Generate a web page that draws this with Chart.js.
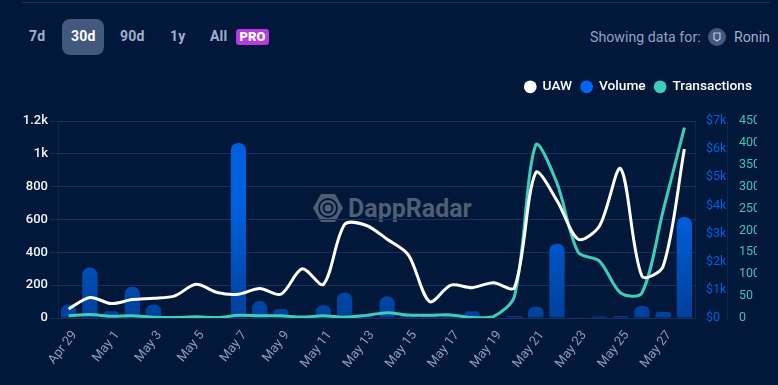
<!DOCTYPE html>
<html>
<head>
<meta charset="utf-8">
<script src="https://cdn.jsdelivr.net/npm/chart.js@4"></script>
<style>
  html, body { margin: 0; padding: 0; background: #01183a; overflow: hidden; }
  body { width: 778px; height: 385px; position: relative; font-family: Roboto, sans-serif; }
  #topline { position: absolute; left: 22px; top: 2px; width: 748px; height: 1px; background: #1b3058; }
  .tab { position: absolute; top: 28px; font-size: 14px; font-weight: 700; color: #9fb0cc; line-height: 17px; letter-spacing: 0.2px; }
  #active { position: absolute; left: 62px; top: 19px; width: 42px; height: 36px; border-radius: 8px; background: #43587d; }
  #pro { position: absolute; left: 236px; top: 29px; width: 33px; height: 16px; border-radius: 3px; background: #b63be0;
         color: #fff; font-size: 13px; font-weight: 900; text-align: center; line-height: 16px; }
  #showing { position: absolute; left: 590px; top: 29px; font-size: 14.2px; color: #8ea3c6; line-height: 17px; }
  #ronin { position: absolute; left: 734px; top: 29px; font-size: 14.2px; color: #9fb0cc; line-height: 17px; }
  #icon { position: absolute; left: 708px; top: 28px; width: 18px; height: 18px; border-radius: 50%; background: #43587d; }
  #mark { position: absolute; left: 312px; top: 193px; }
  #markname { position: absolute; left: 348px; top: 194px; font-size: 25px; font-weight: 700; color: #4f5d75; line-height: 29px; }
  #myChart { position: absolute; left: 0; top: 0; }
</style>
</head>
<body>
<div id="topline"></div>
<div id="active"></div>
<div class="tab" style="left:29px">7d</div>
<div class="tab" style="left:71px;color:#fff">30d</div>
<div class="tab" style="left:120px">90d</div>
<div class="tab" style="left:170px">1y</div>
<div class="tab" style="left:210px">All</div>
<div id="pro">PRO</div>
<div id="showing">Showing data for:</div>
<div id="icon"><svg width="18" height="18" viewBox="0 0 18 18"><path d="M6 5h6v6l-3 2-3-2z" fill="none" stroke="#c4cedd" stroke-width="1.2"/></svg></div>
<div id="ronin">Ronin</div>
<svg id="mark" width="32" height="30" viewBox="0 0 32 30">
  <path d="M9 1h14l8 14-8 14H9L1 15z" fill="#4f5d75"/>
  <circle cx="16" cy="15" r="9" fill="none" stroke="#01183a" stroke-width="2"/>
  <circle cx="16" cy="15" r="4.5" fill="none" stroke="#01183a" stroke-width="2"/>
</svg>
<div id="markname">DappRadar</div>
<canvas id="myChart" width="778" height="385"></canvas>
<script>
const labels = ['Apr 29','Apr 30','May 1','May 2','May 3','May 4','May 5','May 6','May 7','May 8','May 9','May 10','May 11','May 12','May 13','May 14','May 15','May 16','May 17','May 18','May 19','May 20','May 21','May 22','May 23','May 24','May 25','May 26','May 27','May 28'];
const uaw = [55,125,88,112,120,135,205,155,145,180,145,300,205,570,565,480,385,100,200,185,215,185,885,715,480,560,910,255,315,1030];
const volume = [480,1790,240,1110,480,0,0,0,6220,600,320,0,450,900,70,770,100,90,80,240,20,60,400,2640,30,50,60,430,210,3590];
const transactions = [5,8,4,5,2,1,3,1,6,5,5,2,5,2,6,12,7,6,7,1,3,50,395,308,150,130,57,57,245,435];

const gridColor = '#1b3058';
const axisColor = '#10264a';

// bars get lighter towards the top, same gradient for all of them
function barGradient(context) {
  const ctx = context.chart.ctx;
  const area = context.chart.chartArea;
  if (!area) return '#0050c0';
  const g = ctx.createLinearGradient(0, area.bottom, 0, area.bottom - 110);
  g.addColorStop(0, '#00409a');
  g.addColorStop(1, '#0060dc');
  return g;
}

const ctx = document.getElementById('myChart').getContext('2d');
const myChart = new Chart(ctx, {
  type: 'bar',
  data: {
    labels: labels,
    datasets: [
      {
        type: 'line',
        label: 'UAW',
        data: uaw,
        yAxisID: 'y',
        borderColor: '#ffffff',
        backgroundColor: '#ffffff',
        borderWidth: 3,
        pointRadius: 0,
        tension: 0.3,
        order: 1
      },
      {
        label: 'Volume',
        data: volume,
        yAxisID: 'yVolume',
        backgroundColor: barGradient,
        barPercentage: 0.72,
        categoryPercentage: 1,
        borderRadius: { topLeft: 7, topRight: 7, bottomLeft: 0, bottomRight: 0 },
        borderSkipped: false,
        order: 3
      },
      {
        type: 'line',
        label: 'Transactions',
        data: transactions,
        yAxisID: 'yTx',
        borderColor: '#40cdb8',
        backgroundColor: '#40cdb8',
        borderWidth: 3,
        pointRadius: 0,
        tension: 0.3,
        order: 2
      }
    ]
  },
  options: {
    responsive: false,
    animation: false,
    layout: { padding: { top: 0, right: 21, bottom: 0, left: 0 } },
    plugins: {
      tooltip: { enabled: false },
      legend: {
        display: true,
        position: 'top',
        align: 'end',
        labels: {
          usePointStyle: true,
          pointStyle: 'circle',
          boxWidth: 11,
          boxHeight: 9,
          padding: 9,
          color: '#ffffff',
          font: { family: 'Roboto', size: 13.7, weight: '500' },
          generateLabels: function (chart) {
            const colors = ['#ffffff', '#0066ff', '#40cdb8'];
            return chart.data.datasets.map(function (ds, i) {
              return { text: ds.label, fillStyle: colors[i], strokeStyle: colors[i], lineWidth: 0, pointStyle: 'circle', datasetIndex: i, fontColor: '#ffffff' };
            });
          }
        }
      }
    },
    scales: {
      x: {
        offset: true,
        grid: { display: false },
        border: { display: false },
        ticks: {
          autoSkip: false,
          maxRotation: 52,
          minRotation: 52,
          padding: 2,
          labelOffset: 6,
          color: '#8d9cb5',
          font: { family: 'Roboto', size: 13 },
          callback: function (value, index) {
            return index % 2 === 0 ? this.getLabelForValue(value) : '';
          }
        },
        afterFit: function (scale) { scale.height = 67; }
      },
      y: {
        position: 'left',
        min: 0,
        max: 1200,
        grid: { color: gridColor, lineWidth: 1, tickLength: 8 },
        border: { color: axisColor },
        ticks: {
          stepSize: 200,
          padding: 2,
          color: '#f2f4f8',
          font: { family: 'Roboto', size: 13, weight: '500' },
          callback: function (v) {
            if (v >= 1000) return (v / 1000) + 'k';
            return v;
          }
        },
        afterFit: function (scale) { scale.width = 58; }
      },
      yVolume: {
        position: 'right',
        min: 0,
        max: 7000,
        grid: { drawOnChartArea: false, tickLength: 0 },
        border: { color: axisColor },
        ticks: {
          stepSize: 1000,
          padding: 11,
          color: '#0060e0',
          font: { family: 'Roboto', size: 12.5 },
          callback: function (v) { return '$' + (v >= 1000 ? (v / 1000) + 'k' : v); }
        },
        afterFit: function (scale) { scale.width = 32; }
      },
      yTx: {
        position: 'right',
        min: 0,
        max: 450,
        grid: { drawOnChartArea: false, tickLength: 0 },
        border: { color: axisColor },
        ticks: {
          stepSize: 50,
          padding: 12,
          color: '#40c4b2',
          font: { family: 'Roboto', size: 12.5 }
        },
        afterFit: function (scale) { scale.width = 30; }
      }
    }
  },
  plugins: [{
    // legend sits at y 87, plot starts at y 121
    id: 'legendSpace',
    beforeInit: function (chart) {
      const fit = chart.legend.fit;
      chart.legend.fit = function () {
        fit.call(this);
        this.height = 121;
      };
    },
    afterLayout: function (chart) {
      chart.legend.top = 71;
      chart.legend.right += 5;
      // rounding in the item widths can push the last item onto a new row
      chart.legend.lineWidths[0] += 1;
    }
  }]
});
</script>
</body>
</html>
